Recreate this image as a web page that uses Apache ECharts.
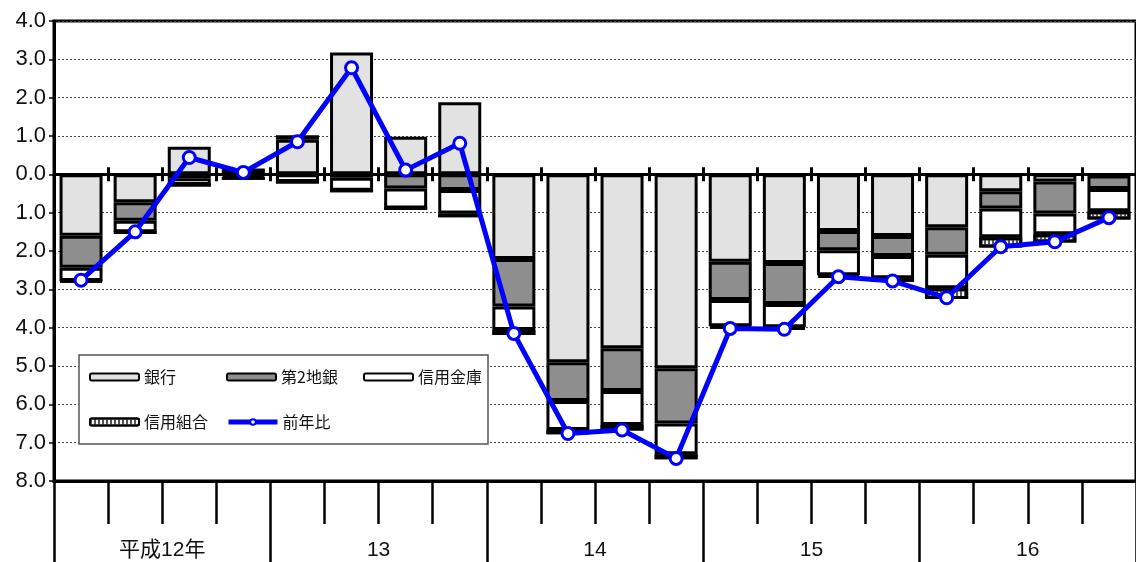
<!DOCTYPE html>
<html>
<head>
<meta charset="utf-8">
<script src="https://cdn.jsdelivr.net/npm/echarts@6/dist/echarts.min.js"></script>
<style>
  html, body { margin: 0; padding: 0; background: #fff; }
  #chart { width: 1136px; height: 562px; }
</style>
</head>
<body>
<div id="chart"></div>
<script>
// Quarterly contributions (percentage points) by type of institution, with year-on-year total
const quarters = ['12Q1','12Q2','12Q3','12Q4','13Q1','13Q2','13Q3','13Q4','14Q1','14Q2','14Q3','14Q4','15Q1','15Q2','15Q3','15Q4','16Q1','16Q2','16Q3','16Q4'];
const years = ['平成12年', '13', '14', '15', '16'];

const banks      = [-1.60, -0.73, 0.72, 0.15, 0.90, 3.18, 0.98, 1.88, -2.21, -4.90, -4.54, -5.06, -2.28, -2.31, -1.48, -1.61, -1.38, -0.44, -0.19, -0.03];
const regional2  = [-0.84, -0.48, -0.10, -0.04, 0.12, -0.09, -0.37, -0.41, -1.24, -1.01, -1.11, -1.44, -1.00, -1.07, -0.50, -0.52, -0.72, -0.45, -0.83, -0.35];
const shinkin    = [-0.34, -0.30, -0.18, -0.06, -0.20, -0.34, -0.52, -0.61, -0.61, -0.76, -0.89, -0.80, -0.68, -0.61, -0.65, -0.58, -0.87, -0.75, -0.54, -0.58];
const credUnions = [-0.02, -0.01, 0.00, 0.00, 0.00, 0.00, 0.00, -0.10, -0.13, -0.11, -0.14, -0.13, -0.06, -0.06, -0.07, -0.09, -0.28, -0.27, -0.22, -0.22];
const yoy        = [-2.76, -1.50, 0.44, 0.05, 0.85, 2.78, 0.11, 0.81, -4.15, -6.76, -6.67, -7.41, -4.02, -4.04, -2.67, -2.78, -3.22, -1.89, -1.76, -1.13];

const yTicks = { min: -8, max: 4, step: 1 };

const chart = echarts.init(document.getElementById('chart'), null, { renderer: 'canvas' });

const barBorder = { borderColor: '#000', borderWidth: 3 };

function barSeries(name, data, itemStyle) {
  return {
    name: name,
    type: 'bar',
    stack: 'total',
    data: data,
    barWidth: 43,
    xAxisIndex: 0,
    yAxisIndex: 0,
    z: 2,
    itemStyle: Object.assign({}, barBorder, itemStyle)
  };
}

chart.setOption({
  animation: false,
  backgroundColor: '#fff',
  grid: {
    left: 54, top: 21, right: -3, bottom: 81,
    show: true, borderColor: '#000', borderWidth: 3, backgroundColor: 'transparent'
  },
  legend: {
    left: 79, top: 355,
    width: 400,
    padding: [5.5, 0, 5.5, 10],
    backgroundColor: '#fff',
    borderColor: '#555',
    borderWidth: 1.5,
    itemWidth: 49,
    itemHeight: 7,
    itemGap: 12,
    textStyle: {
      fontFamily: 'Noto Sans CJK JP',
      fontSize: 16,
      color: '#111',
      width: 70,
      lineHeight: 33
    },
    data: [
      '銀行', '第2地銀', '信用金庫', '信用組合',
      { name: '前年比', lineStyle: { width: 5 } }
    ]
  },
  xAxis: [
    { // zero line, ticks below
      type: 'category', data: quarters, position: 'bottom', gridIndex: 0,
      axisLine: { onZero: true, onZeroAxisIndex: 0, lineStyle: { color: '#000', width: 3 } },
      axisTick: { show: true, length: 7, lineStyle: { color: '#000', width: 3 } },
      axisLabel: { show: false }, splitLine: { show: false }
    },
    { // zero line, ticks above
      type: 'category', data: quarters, position: 'top', gridIndex: 0,
      axisLine: { show: false, onZero: true, onZeroAxisIndex: 0 },
      axisTick: { show: true, length: 7, lineStyle: { color: '#000', width: 3 } },
      axisLabel: { show: false }, splitLine: { show: false }
    },
    { // quarter dividers under the plot
      type: 'category', data: quarters, position: 'bottom', gridIndex: 0,
      axisLine: { onZero: false, lineStyle: { color: '#000', width: 3 } },
      axisTick: { show: true, length: 43, lineStyle: { color: '#000', width: 2.5 } },
      axisLabel: { show: false }, splitLine: { show: false }
    },
    { // year dividers and labels
      type: 'category', data: years, position: 'bottom', gridIndex: 0,
      axisLine: { onZero: false, lineStyle: { color: '#000', width: 3 } },
      axisTick: { show: true, length: 90, lineStyle: { color: '#000', width: 2.5 } },
      axisLabel: {
        margin: 59, fontSize: 21, color: '#111',
        fontFamily: 'Liberation Sans, Noto Sans CJK JP'
      },
      splitLine: { show: false }
    }
  ],
  yAxis: [{
    type: 'value',
    min: yTicks.min, max: yTicks.max, interval: yTicks.step,
    axisLine: { show: true, lineStyle: { color: '#000', width: 3 } },
    axisTick: { show: true, length: 5, lineStyle: { color: '#000', width: 1.5 } },
    axisLabel: {
      margin: 8, fontSize: 22, color: '#111',
      fontFamily: 'Liberation Sans',
      formatter: v => Math.abs(v).toFixed(1)
    },
    splitLine: { show: true, lineStyle: { color: '#444', width: 1, type: [2, 2] } }
  }],
  series: [
    barSeries('銀行', banks, { color: '#e2e2e2' }),
    barSeries('第2地銀', regional2, { color: '#8e8e8e' }),
    barSeries('信用金庫', shinkin, { color: '#ffffff' }),
    barSeries('信用組合', credUnions, {
      color: '#f2f2f2',
      decal: { symbol: 'rect', symbolSize: 1, color: '#555', dashArrayX: [2, 2], dashArrayY: [1, 0], rotation: 0 }
    }),
    {
      name: '前年比',
      type: 'line',
      data: yoy,
      xAxisIndex: 0, yAxisIndex: 0,
      z: 5,
      symbol: 'circle',
      symbolSize: 12,
      lineStyle: { color: '#0000ff', width: 5 },
      itemStyle: { color: '#ffffff', borderColor: '#0000ff', borderWidth: 3 }
    }
  ]
});
</script>
</body>
</html>
